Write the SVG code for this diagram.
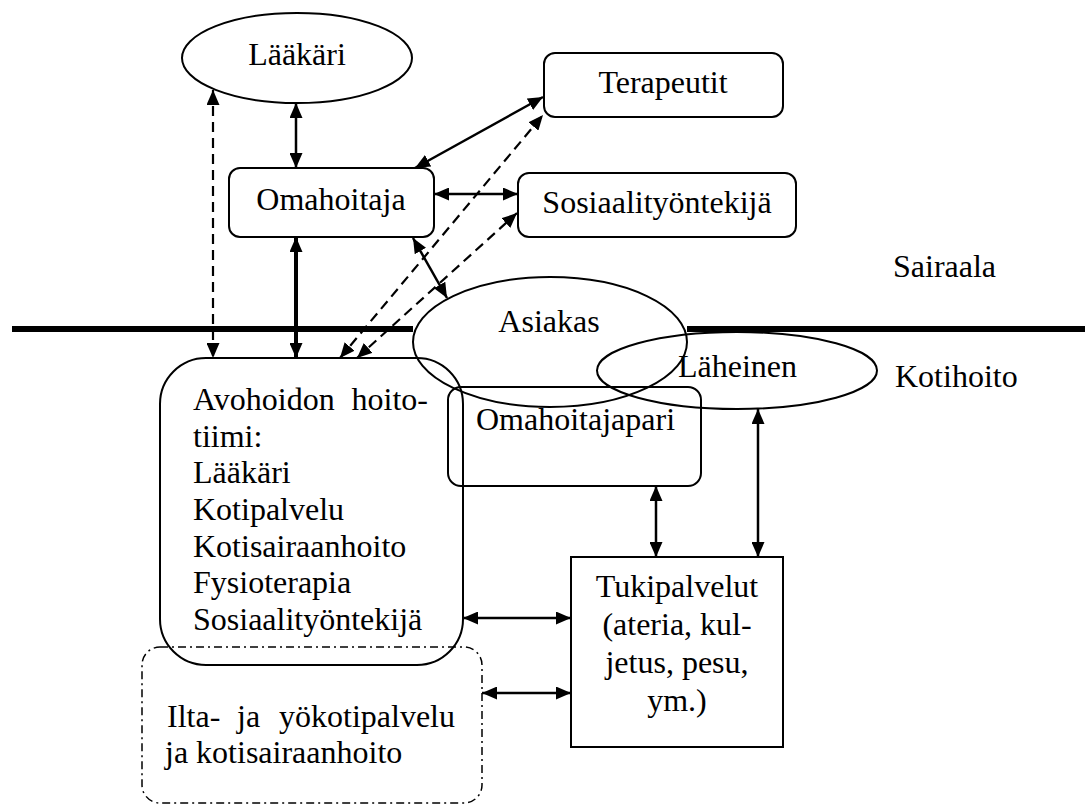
<svg xmlns="http://www.w3.org/2000/svg" width="1085" height="805" viewBox="0 0 1085 805">
<style>
.s{fill:none;stroke:#000;stroke-width:2}
text{font-family:'Liberation Serif','Times New Roman',Tinos,'DejaVu Serif',serif;font-size:32px;fill:#000}
.c{text-anchor:middle}
.a{fill:none;stroke:#000;stroke-width:2.5;marker-start:url(#ah);marker-end:url(#ah)}
.d{fill:none;stroke:#000;stroke-width:2.2;stroke-dasharray:10 6;marker-start:url(#ah);marker-end:url(#ah)}
</style>
<defs>
<marker id="ah" viewBox="0 0 15 13" refX="15" refY="6.5" markerWidth="15" markerHeight="13" markerUnits="userSpaceOnUse" orient="auto-start-reverse">
<path d="M0,0 L15,6.5 L0,13 z" fill="#000"/>
</marker>
</defs>
<rect width="1085" height="805" fill="#fff"/>
<g id="divider">
<line x1="12" y1="329" x2="413" y2="329" stroke="#000" stroke-width="6"/>
<line x1="687" y1="329" x2="1085" y2="329" stroke="#000" stroke-width="6"/>
<text x="893" y="277">Sairaala</text>
<text x="895" y="387">Kotihoito</text>
</g>
<g id="laakari">
<ellipse class="s" cx="297" cy="58" rx="115" ry="45"/>
<text class="c" x="297" y="65">Lääkäri</text>
</g>
<g id="omahoitaja">
<rect class="s" x="229" y="168" width="205" height="69" rx="11"/>
<text class="c" x="331" y="210">Omahoitaja</text>
</g>
<g id="terapeutit">
<rect class="s" x="544" y="53" width="239" height="64" rx="11"/>
<text class="c" x="663" y="93">Terapeutit</text>
</g>
<g id="sosiaalityontekija">
<rect class="s" x="518" y="173" width="278" height="64" rx="11"/>
<text class="c" x="657" y="213">Sosiaalityöntekijä</text>
</g>
<g id="asiakas">
<ellipse class="s" cx="550" cy="342" rx="137" ry="65"/>
<text class="c" x="549" y="332">Asiakas</text>
</g>
<g id="laheinen">
<ellipse class="s" cx="737" cy="370.5" rx="140" ry="38.5"/>
<text x="678" y="377">Läheinen</text>
</g>
<g id="omahoitajapari">
<rect class="s" x="448" y="387" width="253" height="99" rx="13"/>
<text x="476" y="430">Omahoitajapari</text>
</g>
<g id="avohoito">
<rect class="s" x="160" y="358" width="303" height="307" rx="46"/>
<text x="193" y="410">Avohoidon</text>
<text x="428" y="410" text-anchor="end">hoito-</text>
<text x="193" y="447">tiimi:</text>
<text x="193" y="483">Lääkäri</text>
<text x="193" y="520">Kotipalvelu</text>
<text x="193" y="557">Kotisairaanhoito</text>
<text x="193" y="593">Fysioterapia</text>
<text x="193" y="630">Sosiaalityöntekijä</text>
</g>
<g id="ilta">
<rect x="142" y="647" width="340" height="156" rx="18" fill="none" stroke="#000" stroke-width="1.5" stroke-dasharray="8 4 2 4"/>
<text x="167" y="727">Ilta-</text>
<text x="237" y="727">ja</text>
<text x="455" y="727" text-anchor="end">yökotipalvelu</text>
<text x="165" y="763">ja kotisairaanhoito</text>
</g>
<g id="tukipalvelut">
<rect class="s" x="571" y="557" width="212" height="190"/>
<text class="c" x="677" y="597">Tukipalvelut</text>
<text class="c" x="677" y="635">(ateria, kul-</text>
<text class="c" x="677" y="673">jetus, pesu,</text>
<text class="c" x="677" y="711">ym.)</text>
</g>
<g id="connectors">
<line class="a" x1="296" y1="103" x2="296" y2="168"/>
<line class="d" x1="213" y1="90" x2="213" y2="358"/>
<line class="a" x1="296" y1="237" x2="296" y2="358" style="stroke-width:4"/>
<line class="a" x1="415" y1="168" x2="543" y2="97"/>
<line class="d" x1="340" y1="358" x2="543" y2="115"/>
<line class="d" x1="357" y1="358" x2="517" y2="213"/>
<line class="a" x1="434" y1="194" x2="518" y2="194"/>
<line class="a" x1="413" y1="238" x2="447" y2="298"/>
<line class="a" x1="656" y1="486" x2="656" y2="557"/>
<line class="a" x1="758" y1="409" x2="758" y2="557"/>
<line class="a" x1="463" y1="618" x2="571" y2="618"/>
<line class="a" x1="482" y1="693" x2="571" y2="693"/>
</g>
</svg>
